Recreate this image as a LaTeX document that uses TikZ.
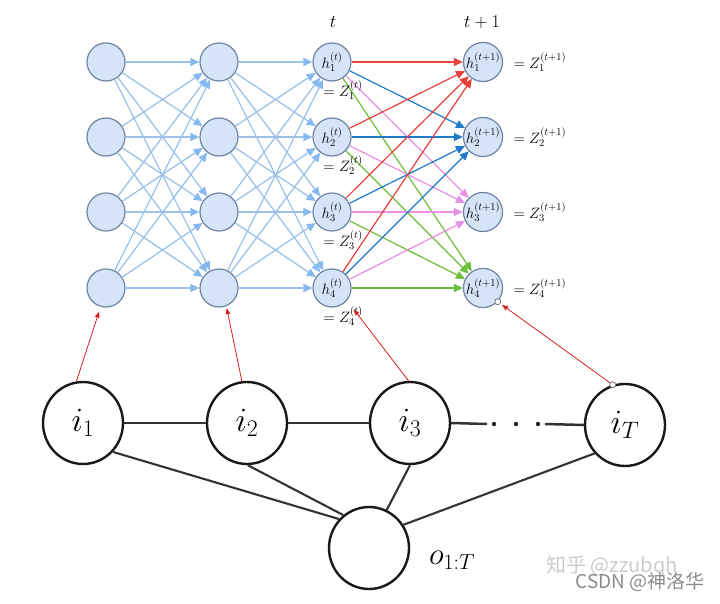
\RequirePackage{fix-cm}
\documentclass[tikz,border=0pt]{standalone}
\usepackage{fontspec}
\newfontfamily\cjk{Noto Sans CJK SC}
\usetikzlibrary{arrows.meta,shapes.geometric}
\definecolor{nodefill}{HTML}{D6E4F7}
\definecolor{nodeborder}{HTML}{6E84A3}
\definecolor{edgeblue}{HTML}{9CC2EA}
\definecolor{tipblue}{HTML}{86B9F0}
\definecolor{cred}{HTML}{E8403C}
\definecolor{cblue}{HTML}{1F7AC9}
\definecolor{cpink}{HTML}{E88FE6}
\definecolor{cgreen}{HTML}{6CBF3A}
\definecolor{arrred}{HTML}{D62020}
\begin{document}
\begin{tikzpicture}[x=1pt,y=-1pt,
  neuron/.style={circle,draw=nodeborder,fill=nodefill,line width=1.2pt,minimum size=38pt,inner sep=0pt,font=\fontsize{15}{16}\selectfont},
  conn/.style={draw=edgeblue,line width=1.3pt,-{Triangle[length=9pt,width=8pt,color=tipblue]}},
  colconn/.style={draw=#1,line width=1.2pt,-{Triangle[length=9pt,width=8pt,color=#1]}},
  ivar/.style={ellipse,draw=black!90,line width=2.4pt,minimum width=80pt,minimum height=82pt,inner sep=0pt,font=\fontsize{34}{38}\selectfont},
  link/.style={draw=black!80,line width=2.1pt},
  redarr/.style={draw=arrred,line width=0.8pt,-{Triangle[length=6pt,width=4.5pt]}},
  smallc/.style={circle,draw=black!55,fill=white,line width=0.8pt,minimum size=6pt,inner sep=0pt},
  zlab/.style={font=\fontsize{15}{17}\selectfont},
  dotc/.style={circle,fill=black!85,minimum size=4.5pt,inner sep=0pt}
]
\useasboundingbox (0,0) rectangle (720,604);
\fill[white] (0,0) rectangle (720,604);

% neurons
\foreach \j/\y in {1/62,2/137,3/212,4/288} {
  \node[neuron] (a\j) at (106,\y) {};
  \node[neuron] (b\j) at (219,\y) {};
  \node[neuron] (c\j) at (332,\y) {$h_{\j}^{(t)}$};
  \node[neuron] (d\j) at (483,\y) {$h_{\j}^{(t+1)}$};
}
% connections
\foreach \j in {1,...,4} {
  \foreach \k in {1,...,4} {
    \draw[conn] (a\j) -- (b\k);
    \draw[conn] (b\j) -- (c\k);
  }
}
\foreach \k/\col in {4/cgreen,3/cpink,2/cblue,1/cred} {
  \foreach \j in {1,...,4} {
    \draw[colconn=\col] (c\j) -- (d\k);
  }
}
% labels
\node[font=\fontsize{18}{20}\selectfont] (tl) at (333,22) {$t$};
\node[font=\fontsize{18}{20}\selectfont] (tl1) at (482,22) {$t+1$};
\foreach \j/\y in {1/62,2/137,3/212,4/288} {
  \node[zlab] (zt\j) at (343,\y+28) {$= Z_{\j}^{(t)}$};
  \node[zlab,anchor=west] (zn\j) at (510,\y) {$= Z_{\j}^{(t+1)}$};
}

% bottom graph
\node[ivar] (i1) at (83,423) {$i_1$};
\node[ivar] (i2) at (247,423) {$i_2$};
\node[ivar] (i3) at (410,423) {$i_3$};
\node[ivar] (iT) at (625,425) {$i_T$};
\node[ivar] (o) at (369,548) {};
\node[font=\fontsize{31}{34}\selectfont] (ol) at (452,560) {$o_{1:T}$};

\coordinate (da) at (487,424);
\coordinate (db) at (545,424);
\node[dotc] (d1x) at (494,424) {};
\node[dotc] (d2x) at (516,424) {};
\node[dotc] (d3x) at (538,424) {};

\draw[link,line width=2.5pt] (i1) -- (i2);
\draw[link,line width=2.5pt] (i2) -- (i3);
\draw[link,line width=2.5pt] (i3.east) -- (da);
\draw[link,line width=2.5pt] (db) -- (iT.west);
\draw[link] (i1.-44) -- (o.136);
\draw[link] (i2.-89) -- (o.128);
\draw[link] (i3.-90) -- (o.65);
\draw[link] (iT.223) -- (o.34);

% red arrows
\draw[redarr,shorten >=5pt] (i1.99) -- (a4.254);
\draw[redarr,shorten >=2pt] (i2.97) -- (b4.-68);
\draw[redarr,shorten >=11pt] (i3.92) -- (c4.-40);
\node[smallc] (sc1) at (d4.-43) {};
\node[smallc] (sc2) at (iT.107) {};
\draw[redarr,shorten >=2pt] (sc2) -- (sc1);

% watermark
\node[text=black!20,font=\cjk\fontsize{20}{22}\selectfont] (wm1) at (612,566) {知乎 @zzubqh};
\node[text=black!45,font=\cjk\fontsize{19}{21}\selectfont] (wm2) at (640,582) {CSDN @神洛华};
\end{tikzpicture}
\end{document}
